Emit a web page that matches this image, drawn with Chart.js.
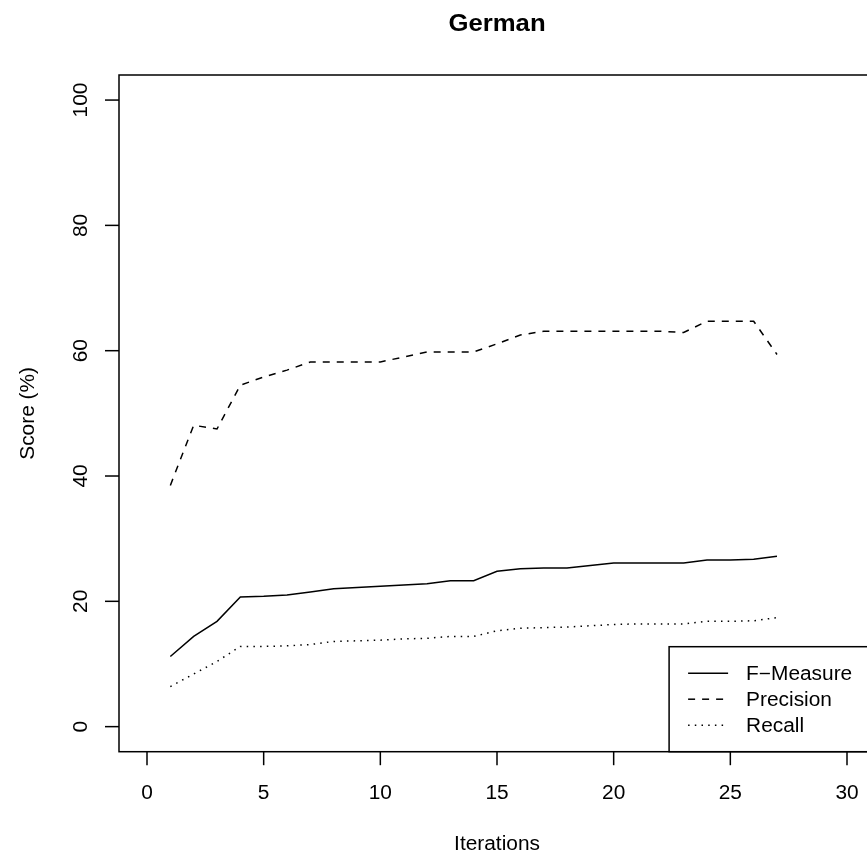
<!DOCTYPE html>
<html>
<head>
<meta charset="utf-8">
<script src="https://cdn.jsdelivr.net/npm/chart.js@4/dist/chart.umd.min.js"></script>
<style>
  html, body { margin: 0; padding: 0; background: #fff; overflow: hidden; }
  #wrap { width: 867px; height: 857px; overflow: hidden; position: relative; }
  canvas { display: block; }
</style>
</head>
<body>
<div id="wrap"><canvas id="c" width="880" height="857"></canvas></div>
<script>
const chartTitle = "German";
const xAxisTitle = "Iterations";
const yAxisTitle = "Score (%)";
const iterations = [1,2,3,4,5,6,7,8,9,10,11,12,13,14,15,16,17,18,19,20,21,22,23,24,25,26,27];
const fMeasure  = [11.2,14.4,16.8,20.7,20.8,21.0,21.5,22.0,22.2,22.4,22.6,22.8,23.3,23.3,24.8,25.2,25.3,25.3,25.7,26.1,26.1,26.1,26.1,26.6,26.6,26.7,27.2];
const precision = [38.5,48.1,47.5,54.5,55.8,56.9,58.2,58.2,58.2,58.2,59.0,59.8,59.8,59.8,61.1,62.5,63.1,63.1,63.1,63.1,63.1,63.1,62.9,64.7,64.7,64.7,59.4];
const recall    = [6.4,8.4,10.4,12.8,12.8,12.9,13.1,13.6,13.7,13.8,14.0,14.1,14.4,14.4,15.3,15.7,15.8,15.9,16.1,16.3,16.4,16.4,16.4,16.8,16.8,16.9,17.4];
const seriesNames = ["F\u2212Measure", "Precision", "Recall"];
const xTicks = [0,5,10,15,20,25,30];
const yTicks = [0,20,40,60,80,100];

const toPts = (ys) => iterations.map((x, i) => ({x: x, y: ys[i]}));

const FONT = '"Liberation Sans", Arial, Helvetica, sans-serif';
const SX = 1.07;

function drawText(ctx, text, x, y, opts) {
  ctx.save();
  ctx.translate(x, y);
  if (opts.rotate) ctx.rotate(opts.rotate);
  ctx.scale(opts.sx || SX, 1);
  ctx.font = opts.font;
  ctx.textAlign = opts.align || 'center';
  ctx.textBaseline = 'alphabetic';
  ctx.fillStyle = '#000';
  ctx.fillText(text, 0, 0);
  ctx.restore();
}

const rAxesPlugin = {
  id: 'rAxes',
  afterDraw(chart) {
    const ctx = chart.ctx;
    const a = chart.chartArea;
    const xs = chart.scales.x, ys = chart.scales.y;
    ctx.save();
    ctx.strokeStyle = '#000';
    ctx.lineWidth = 1.5;
    ctx.setLineDash([]);
    // box
    ctx.strokeRect(a.left, a.top, a.right - a.left, a.bottom - a.top);
    // x ticks
    const f = '19.5px ' + FONT;
    xTicks.forEach(v => {
      const px = xs.getPixelForValue(v);
      ctx.beginPath(); ctx.moveTo(px, a.bottom); ctx.lineTo(px, a.bottom + 13.5); ctx.stroke();
      drawText(ctx, String(v), px, 799, {font: f});
    });
    yTicks.forEach(v => {
      const py = ys.getPixelForValue(v);
      ctx.beginPath(); ctx.moveTo(a.left, py); ctx.lineTo(a.left - 14, py); ctx.stroke();
      drawText(ctx, String(v), 87, py, {font: f, rotate: -Math.PI / 2});
    });
    // titles
    const cx = (a.left + a.right) / 2;
    drawText(ctx, chartTitle, cx, 30.7, {font: 'bold 24.5px ' + FONT, sx: 1.05});
    drawText(ctx, xAxisTitle, cx, 850, {font: f});
    drawText(ctx, yAxisTitle, 34.3, (a.top + a.bottom) / 2, {font: f, rotate: -Math.PI / 2});
    // legend (bottom-right, inside plot box)
    const lw = 205.9, lh = 105;
    const lx = a.right - lw, ly = a.bottom - lh;
    ctx.fillStyle = '#fff';
    ctx.fillRect(lx, ly, lw, lh);
    ctx.strokeRect(lx, ly, lw, lh);
    chart.data.datasets.forEach((ds, i) => {
      const yy = ly + 26.5 + i * 26;
      ctx.save();
      ctx.lineWidth = ds.borderWidth;
      ctx.setLineDash(ds.borderDash || []);
      ctx.beginPath(); ctx.moveTo(lx + 19, yy); ctx.lineTo(lx + 59, yy); ctx.stroke();
      ctx.restore();
      drawText(ctx, ds.label, lx + 77, yy + 7, {font: f, align: 'left'});
    });
    ctx.restore();
  }
};

new Chart(document.getElementById('c'), {
  type: 'line',
  data: {
    datasets: [
      { label: seriesNames[0], data: toPts(fMeasure), borderColor: '#000', borderWidth: 1.5, borderDash: [], pointRadius: 0, tension: 0, fill: false },
      { label: seriesNames[1], data: toPts(precision), borderColor: '#000', borderWidth: 1.5, borderDash: [7, 7], pointRadius: 0, tension: 0, fill: false },
      { label: seriesNames[2], data: toPts(recall), borderColor: '#000', borderWidth: 1.5, borderDash: [1.5, 5.2], pointRadius: 0, tension: 0, fill: false }
    ]
  },
  options: {
    responsive: false,
    animation: false,
    devicePixelRatio: 1,
    layout: { padding: { left: 119, top: 75, right: 5, bottom: 105.3 } },
    plugins: { legend: { display: false }, title: { display: false }, tooltip: { enabled: false } },
    scales: {
      x: { type: 'linear', display: false, min: -1.2, max: 31.2 },
      y: { type: 'linear', display: false, min: -4, max: 104 }
    }
  },
  plugins: [rAxesPlugin]
});
</script>
</body>
</html>
